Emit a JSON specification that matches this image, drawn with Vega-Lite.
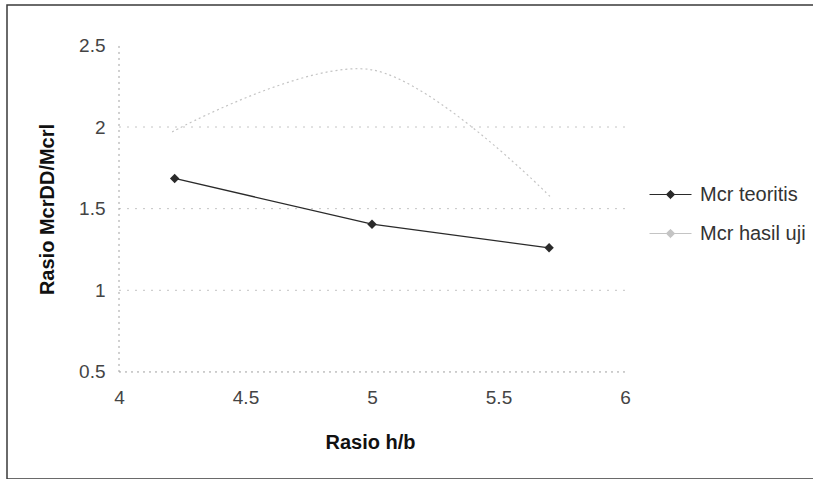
{
  "$schema": "https://vega.github.io/schema/vega-lite/v6.json",
  "width": 808,
  "height": 474,
  "autosize": "none",
  "padding": {"left": 7, "top": 5, "right": 0, "bottom": 0},
  "background": "white",
  "config": {
    "view": {"stroke": "#3a3a3a", "strokeWidth": 1.5},
    "font": "Liberation Sans"
  },
  "datasets": {
    "series": [
      {"x": 4.22, "y": 1.685, "series": "Mcr teoritis"},
      {"x": 5.0, "y": 1.405, "series": "Mcr teoritis"},
      {"x": 5.7, "y": 1.26, "series": "Mcr teoritis"},
      {"x": 4.21, "y": 1.97, "series": "Mcr hasil uji"},
      {"x": 5.0, "y": 2.35, "series": "Mcr hasil uji"},
      {"x": 5.71, "y": 1.565, "series": "Mcr hasil uji"}
    ],
    "grid": [{"v": 1}, {"v": 1.5}, {"v": 2}],
    "one": [{}]
  },
  "layer": [
    {
      "data": {"name": "grid"},
      "mark": {"type": "rule", "color": "#c4c4c4", "strokeWidth": 1, "strokeDash": [2, 6]},
      "encoding": {
        "y": {"field": "v", "type": "quantitative", "scale": {"domain": [-0.1555, 2.7471], "nice": false, "zero": false},
          "axis": {"values": [0.5, 1, 1.5, 2, 2.5], "format": "~g", "offset": -112, "domain": false, "ticks": false, "grid": false,
            "labelPadding": 14, "labelFontSize": 19, "labelColor": "#444444", "labelFont": "Liberation Sans",
            "title": "Rasio McrDD/Mcrl", "titleFontSize": 20, "titleFontWeight": "bold", "titleColor": "#111111",
            "titleFont": "Liberation Sans", "titleX": -72, "titleY": 204, "titleBaseline": "middle", "titleAlign": "center", "titleAngle": -90}},
        "x": {"datum": 4, "type": "quantitative", "scale": {"domain": [3.5573, 6.751], "nice": false, "zero": false},
          "axis": {"values": [4, 4.5, 5, 5.5, 6], "format": "~g", "offset": -107, "domain": false, "ticks": false, "grid": false,
            "labelPadding": 16, "labelFontSize": 19, "labelColor": "#444444", "labelFont": "Liberation Sans",
            "title": "Rasio h/b", "titleFontSize": 20, "titleFontWeight": "bold", "titleColor": "#111111",
            "titleFont": "Liberation Sans", "titleX": 363, "titleY": 70, "titleBaseline": "middle", "titleAlign": "center"}},
        "x2": {"datum": 6}
      }
    },
    {
      "data": {"name": "one"},
      "mark": {"type": "rule", "color": "#a0a0a0", "strokeWidth": 1, "strokeDash": [2, 4]},
      "encoding": {
        "x": {"datum": 4, "type": "quantitative"},
        "y": {"datum": 0.5, "type": "quantitative"},
        "y2": {"datum": 2.5}
      }
    },
    {
      "data": {"name": "one"},
      "mark": {"type": "rule", "color": "#a0a0a0", "strokeWidth": 1, "strokeDash": [2, 4]},
      "encoding": {
        "y": {"datum": 0.5, "type": "quantitative"},
        "x": {"datum": 4, "type": "quantitative"},
        "x2": {"datum": 6}
      }
    },
    {
      "data": {"name": "series"},
      "transform": [{"filter": "datum.series === 'Mcr hasil uji'"}],
      "mark": {"type": "line", "interpolate": "cardinal", "strokeWidth": 1.2, "strokeDash": [2, 3]},
      "encoding": {
        "x": {"field": "x", "type": "quantitative"},
        "y": {"field": "y", "type": "quantitative"},
        "color": {"field": "series", "type": "nominal",
          "scale": {"domain": ["Mcr teoritis", "Mcr hasil uji"], "range": ["#2a2a2a", "#c4c4c4"]},
          "legend": {"orient": "none", "legendX": 642, "legendY": 168, "title": null, "padding": 0,
            "symbolType": "M-1,0H1M0,-0.2L0.2,0L0,0.2L-0.2,0Z", "symbolSize": 1764, "symbolStrokeWidth": 1,
            "labelFont": "Liberation Sans", "labelFontSize": 20, "labelColor": "#333333", "labelOffset": 8, "rowPadding": 7}}
      }
    },
    {
      "data": {"name": "series"},
      "transform": [{"filter": "datum.series === 'Mcr teoritis'"}],
      "mark": {"type": "line", "strokeWidth": 1.3},
      "encoding": {
        "x": {"field": "x", "type": "quantitative"},
        "y": {"field": "y", "type": "quantitative"},
        "color": {"field": "series", "type": "nominal"}
      }
    },
    {
      "data": {"name": "series"},
      "transform": [{"filter": "datum.series === 'Mcr teoritis'"}],
      "mark": {"type": "point", "shape": "diamond", "filled": true, "size": 90, "opacity": 1},
      "encoding": {
        "x": {"field": "x", "type": "quantitative"},
        "y": {"field": "y", "type": "quantitative"},
        "color": {"field": "series", "type": "nominal"}
      }
    }
  ]
}
